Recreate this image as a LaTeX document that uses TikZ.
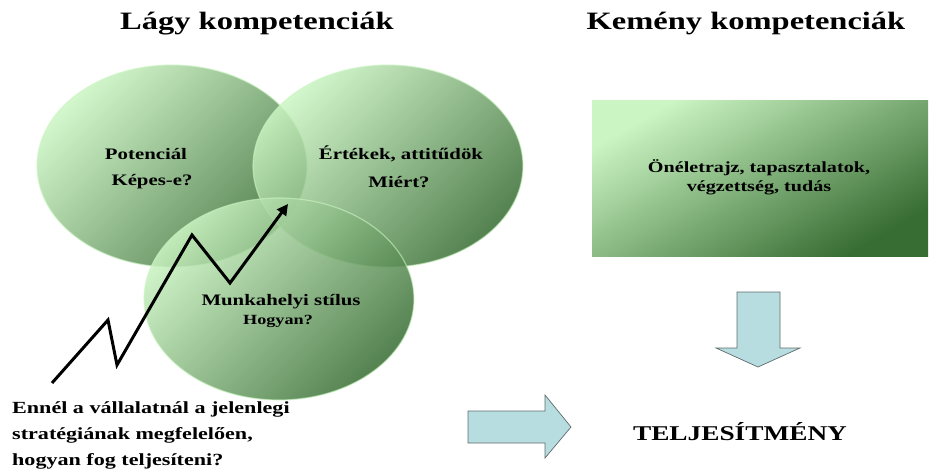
\documentclass[tikz,border=0pt]{standalone}
\usepackage{fontspec}
\setmainfont[FakeStretch=1.3]{Liberation Serif}
\usetikzlibrary{shapes.geometric,arrows.meta}
\definecolor{softlight}{HTML}{CBF5C3}
\definecolor{softdark}{HTML}{376C32}
\definecolor{arrowfill}{HTML}{B7DDE0}
\definecolor{arrowline}{HTML}{5F6B6B}
\begin{document}
\begin{tikzpicture}[x=1pt,y=-1pt,
  bubble/.style={ellipse, minimum width=270, minimum height=202, inner sep=0,
    top color=softlight, bottom color=softdark, shading angle=45,
    fill opacity=0.85, draw=softlight, draw opacity=0.6, line width=1.2},
  hardbox/.style={rectangle, minimum width=336, minimum height=156, inner sep=0,
    top color=softlight, bottom color=softdark, shading angle=30},
  heading/.style={font=\fontsize{25}{30}\selectfont\bfseries},
  ctext/.style={font=\fontsize{16}{19}\selectfont\bfseries, inner sep=0},
  blockarrow/.style={fill=arrowfill, draw=arrowline, line width=0.7, line join=miter},
  zigzag/.style={line width=3, line join=miter, -{Triangle[length=11,width=11]}}
]
\useasboundingbox (0,0) rectangle (930,471);

% headings
\node[heading] (softtitle) at (257,24) {Lágy kompetenciák};
\node[heading] (hardtitle) at (746,24) {Kemény kompetenciák};

% overlapping soft-competence ellipses
\node[bubble] (pot) at (172,166) {};
\node[bubble] (val) at (388,166) {};
\node[bubble] (sty) at (279,299) {};

\node[ctext] (pottxt) at (146,154) {Potenciál};
\node[ctext] (potq) at (152,182) {Képes-e?};
\node[ctext] (valtxt) at (401,154) {Értékek, attitűdök};
\node[ctext] (valq) at (399,182) {Miért?};
\node[ctext] (stytxt) at (281,302) {Munkahelyi stílus};
\node[ctext, font=\fontsize{14}{17}\selectfont\bfseries] (styq) at (278,321) {Hogyan?};

% hard competences box
\node[hardbox] (cv) at (760,178) {};
\node[ctext, align=center, font=\fontsize{15.5}{19}\selectfont\bfseries] (cvtxt) at (759,177)
  {Önéletrajz, tapasztalatok,\\végzettség, tudás};

% rising zigzag
\coordinate (z0) at (52,383);
\coordinate (z1) at (108,320);
\coordinate (z2) at (117,365);
\coordinate (z3) at (192,235);
\coordinate (z4) at (230,283);
\coordinate (z5) at (288,204);
\draw[zigzag] (z0) -- (z1) -- (z2) -- (z3) -- (z4) -- (z5);

% question
\node[anchor=north west, align=left, inner sep=0,
  font=\fontsize{17}{26}\selectfont\bfseries] (question) at (12,401)
  {Ennél a vállalatnál a jelenlegi\\stratégiának megfelelően,\\hogyan fog teljesíteni?};

% block arrows
\draw[blockarrow] (737,292) -- (780,292) -- (780,348) -- (800,348) -- (758,367)
  -- (716,348) -- (737,348) -- cycle;
\draw[blockarrow] (468,411) -- (545,411) -- (545,395) -- (571,427) -- (545,458)
  -- (545,443) -- (468,443) -- cycle;

\node[font=\fontsize{21}{25}\selectfont\bfseries] (perf) at (740,432) {TELJESÍTMÉNY};
\end{tikzpicture}
\end{document}
